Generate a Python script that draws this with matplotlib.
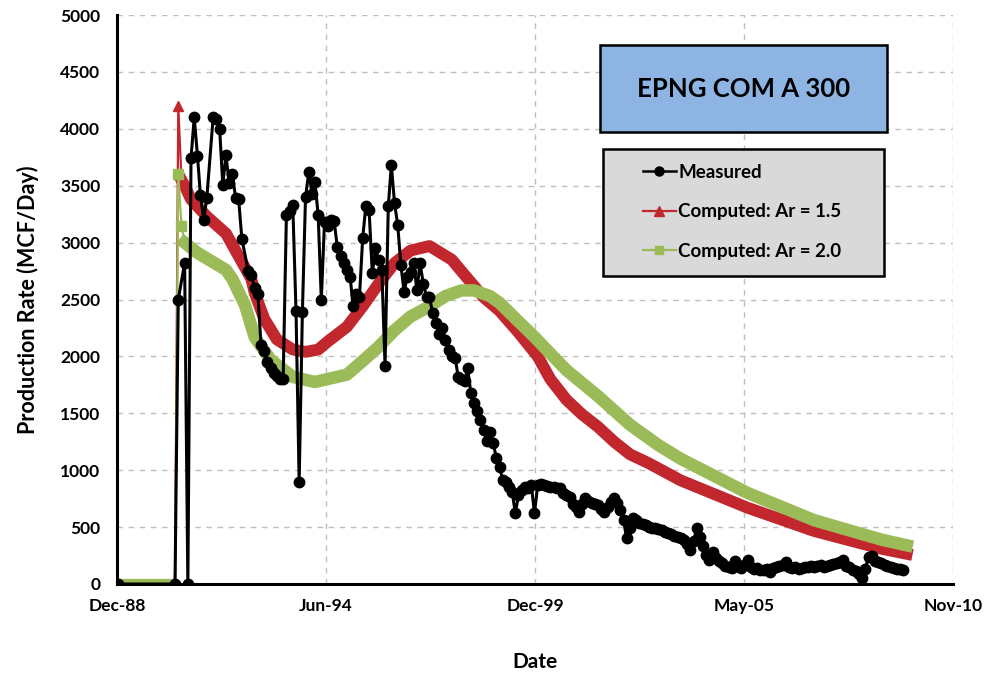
import numpy as np
import matplotlib
matplotlib.use('Agg')
import matplotlib.pyplot as plt
from matplotlib.dates import DateFormatter
from matplotlib.lines import Line2D
from matplotlib.patches import Rectangle

plt.rcParams['font.family'] = ['Lato', 'DejaVu Sans']
plt.rcParams['font.weight'] = 'bold'

# measured monthly gas rate (MCF/Day)
meas_months = [
    '1989-01', '1990-07', '1990-08', '1990-10', '1990-11', '1990-12',
    '1991-01', '1991-02', '1991-03', '1991-04', '1991-05', '1991-07', '1991-08', '1991-09',
    '1991-10', '1991-11', '1991-12',
    '1992-01', '1992-02', '1992-03', '1992-04', '1992-06', '1992-07', '1992-08', '1992-09',
    '1992-10', '1992-11', '1992-12',
    '1993-01', '1993-02', '1993-03', '1993-04', '1993-05', '1993-06', '1993-07', '1993-08',
    '1993-09', '1993-10', '1993-11', '1993-12',
    '1994-01', '1994-02', '1994-03', '1994-04', '1994-05', '1994-06', '1994-07', '1994-08',
    '1994-09', '1994-10', '1994-11', '1994-12',
    '1995-01', '1995-02', '1995-03', '1995-04', '1995-05', '1995-06', '1995-07', '1995-08',
    '1995-09', '1995-10', '1995-11', '1995-12',
    '1996-01', '1996-02', '1996-03', '1996-04', '1996-05', '1996-06', '1996-07', '1996-08',
    '1996-09', '1996-10', '1996-11', '1996-12',
    '1997-01', '1997-02', '1997-03', '1997-04', '1997-05', '1997-06', '1997-07', '1997-08',
    '1997-09', '1997-10', '1997-11', '1997-12',
    '1998-01', '1998-02', '1998-03', '1998-04', '1998-05', '1998-06', '1998-07', '1998-08',
    '1998-09', '1998-10', '1998-11', '1998-12',
    '1999-01', '1999-02', '1999-03', '1999-04', '1999-05', '1999-06', '1999-07', '1999-08',
    '1999-09', '1999-10', '1999-11', '1999-12',
    '2000-01', '2000-02', '2000-03', '2000-04', '2000-05', '2000-06', '2000-07', '2000-08',
    '2000-09', '2000-10', '2000-11', '2000-12',
    '2001-01', '2001-02', '2001-03', '2001-04', '2001-05', '2001-06', '2001-07', '2001-08',
    '2001-09', '2001-10', '2001-11', '2001-12',
    '2002-01', '2002-02', '2002-03', '2002-04', '2002-05', '2002-06', '2002-07', '2002-08',
    '2002-09', '2002-10', '2002-11', '2002-12',
    '2003-01', '2003-02', '2003-03', '2003-04', '2003-05', '2003-06', '2003-07', '2003-08',
    '2003-09', '2003-10', '2003-11', '2003-12',
    '2004-01', '2004-02', '2004-03', '2004-04', '2004-05', '2004-06', '2004-07', '2004-08',
    '2004-09', '2004-10', '2004-11', '2004-12',
    '2005-01', '2005-02', '2005-03', '2005-04', '2005-05', '2005-06', '2005-07', '2005-08',
    '2005-09', '2005-10', '2005-11', '2005-12',
    '2006-01', '2006-02', '2006-03', '2006-04', '2006-05', '2006-06', '2006-07', '2006-08',
    '2006-09', '2006-10', '2006-11', '2006-12',
    '2007-01', '2007-02', '2007-03', '2007-04', '2007-05', '2007-06', '2007-07', '2007-08',
    '2007-09', '2007-10', '2007-11', '2007-12',
    '2008-01', '2008-02', '2008-03', '2008-04', '2008-05', '2008-06', '2008-07', '2008-08',
    '2008-09', '2008-10', '2008-11', '2008-12',
    '2009-01', '2009-02', '2009-03', '2009-04', '2009-05', '2009-06', '2009-07', '2009-08',
]
meas_rate = [
    0, 0, 2500, 2820, 0, 3740,
    4100, 3760, 3420, 3200, 3390, 4100, 4090, 4000,
    3510, 3770, 3520,
    3600, 3390, 3380, 3030, 2750, 2715, 2600, 2550,
    2100, 2050, 1950,
    1900, 1850, 1830, 1800, 1800, 3240, 3280, 3330,
    2400, 900, 2390, 3400,
    3620, 3430, 3535, 3240, 2500, 3185, 3150, 3200,
    3190, 2960, 2880, 2820,
    2760, 2700, 2440, 2550, 2520, 3040, 3320, 3290,
    2730, 2950, 2850, 2760,
    1920, 3320, 3680, 3345, 3155, 2800, 2570, 2700,
    2740, 2820, 2580, 2820,
    2640, 2525, 2520, 2380, 2290, 2200, 2250, 2140,
    2060, 2000, 1990, 1820,
    1800, 1780, 1895, 1680, 1590, 1520, 1440, 1350,
    1260, 1340, 1240, 1105,
    1030, 910, 900, 855, 811, 621, 780, 826,
    850, 844, 870, 621,
    870, 880, 870, 860, 855, 850, 845, 841,
    800, 780, 767, 700,
    680, 636, 700, 753, 730, 709, 700, 694,
    660, 636, 680, 720,
    753, 709, 650, 562, 401, 489, 577, 560,
    540, 525, 518, 505,
    495, 489, 480, 470, 460, 450, 440, 425,
    416, 400, 387, 350,
    299, 380, 489, 416, 330, 255, 211, 284,
    230, 200, 180, 160,
    152, 140, 200, 160, 140, 170, 211, 150,
    130, 140, 125, 120,
    130, 108, 140, 150, 160, 170, 196, 150,
    140, 150, 130, 138,
    145, 150, 160, 150, 155, 167, 150, 160,
    170, 175, 185, 195,
    211, 160, 150, 120, 110, 90, 50, 130,
    240, 250, 200, 190,
    182, 170, 160, 152, 140, 135, 130, 123,
]

# computed, Ar = 1.5
ar15_months = [
    '1989-01', '1990-07', '1990-08', '1990-09', '1990-10', '1990-12', '1991-05', '1991-11',
    '1992-04', '1992-07', '1992-08', '1992-11', '1993-03', '1993-08', '1993-12', '1994-04',
    '1994-07', '1995-01', '1995-06', '1995-11', '1996-04', '1996-09', '1997-03', '1997-10',
    '1998-02', '1998-08', '1999-01', '1999-07', '2000-01', '2000-05', '2000-10', '2001-03',
    '2001-08', '2002-01', '2002-06', '2002-12', '2003-10', '2005-07', '2007-04', '2009-01',
    '2009-09',
]
ar15_rate = [
    0, 0, 4200, 3550, 3500, 3380, 3230, 3080,
    2830, 2680, 2560, 2330, 2150, 2060, 2040, 2060,
    2130, 2260, 2440, 2640, 2820, 2930, 2970, 2850,
    2715, 2520, 2400, 2210, 2000, 1800, 1620, 1490,
    1380, 1250, 1140, 1060, 910, 670, 465, 310,
    265,
]

# computed, Ar = 2.0
ar20_months = [
    '1989-01', '1990-07', '1990-08', '1990-09', '1990-10', '1991-02', '1991-11', '1992-01',
    '1992-05', '1992-08', '1993-01', '1993-08', '1994-03', '1995-01', '1995-06', '1995-11',
    '1996-04', '1996-09', '1997-03', '1997-08', '1998-01', '1998-05', '1998-10', '1999-01',
    '1999-12', '2000-10', '2001-08', '2002-06', '2003-03', '2003-10', '2005-07', '2007-04',
    '2009-01', '2009-09',
]
ar20_rate = [
    0, 0, 3600, 3150, 3000, 2910, 2760, 2680,
    2450, 2170, 1970, 1820, 1775, 1840, 1960, 2085,
    2230, 2350, 2440, 2530, 2580, 2580, 2530, 2470,
    2170, 1880, 1650, 1400, 1220, 1100, 800, 560,
    390, 340,
]

tick_dates = ['1988-12-23', '1994-06-15', '1999-12-07', '2005-05-30', '2010-11-18']

RED = '#C1272D'
GREEN = '#9BBB59'

md = np.array(meas_months, dtype='datetime64[M]').astype('datetime64[D]')
r_d = np.array(ar15_months, dtype='datetime64[M]').astype('datetime64[D]')
g_d = np.array(ar20_months, dtype='datetime64[M]').astype('datetime64[D]')
r_v = np.array(ar15_rate)
g_v = np.array(ar20_rate)
ticks = np.array(tick_dates, dtype='datetime64[D]')

fig = plt.figure(figsize=(9.9, 6.77), dpi=100)
ax = fig.add_axes([0.1182, 0.1374, 0.8444, 0.8404])

# computed curves: thin connecting line, thick band, spike markers
ax.plot(r_d, r_v, color=RED, lw=1.6, zorder=3)
ax.plot(r_d[:2], r_v[:2], color=RED, lw=8, solid_capstyle='butt', zorder=3)
ax.plot(r_d[3:], r_v[3:], color=RED, lw=8.5, zorder=3)
ax.plot(r_d[2:3], r_v[2:3], color=RED, marker='^', ms=7, ls='none', zorder=3)

ax.plot(g_d, g_v, color=GREEN, lw=1.6, zorder=4)
ax.plot(g_d[:2], g_v[:2], color=GREEN, lw=8, solid_capstyle='butt', zorder=4)
ax.plot(g_d[4:], g_v[4:], color=GREEN, lw=9, zorder=4)
ax.plot(g_d[2:4], g_v[2:4], color=GREEN, marker='s', ms=7, ls='none', zorder=4)

ax.plot(md, meas_rate, color='black', lw=2.2, marker='o', ms=7.5, zorder=5)

ax.set_xlim(ticks[0], ticks[-1])
ax.set_ylim(0, 5000)
ax.set_xticks(ticks)
ax.xaxis.set_major_formatter(DateFormatter('%b-%y'))
ax.set_yticks(np.arange(0, 5001, 500))

ax.grid(True, color='#BFBFBF', lw=1, linestyle=(0, (4, 4)))
ax.set_axisbelow(True)
for s in ['top', 'right']:
    ax.spines[s].set_visible(False)
for s in ['left', 'bottom']:
    ax.spines[s].set_linewidth(2.2)
    ax.spines[s].set_zorder(6)
ax.tick_params(length=0, labelsize=12.5)
ax.tick_params(axis='x', pad=10)
ax.tick_params(axis='y', pad=12)

ax.set_xlabel('Date', fontsize=15, fontweight='bold')
ax.set_ylabel('Production Rate (MCF/Day)', fontsize=15.5, fontweight='bold')
ax.xaxis.set_label_coords(0.5, -0.12)
ax.yaxis.set_label_coords(-0.093, 0.5)

# title box
ax.add_patch(Rectangle((0.5778, 0.7944), 0.3433, 0.1529, transform=ax.transAxes,
                       facecolor='#8DB4E2', edgecolor='black', lw=1.8, zorder=7))
ax.text(0.7494, 0.8708, 'EPNG COM A 300', transform=ax.transAxes, ha='center', va='center',
        fontsize=18.5, fontweight='bold', zorder=8)

# legend box
ax.add_patch(Rectangle((0.5813, 0.5413), 0.3361, 0.2232, transform=ax.transAxes,
                       facecolor='#D9D9D9', edgecolor='black', lw=1.8, zorder=7))
handles = [
    Line2D([], [], color='black', lw=1.8, marker='o', ms=6.5),
    Line2D([], [], color=RED, lw=1.6, marker='^', ms=7),
    Line2D([], [], color=GREEN, lw=1.6, marker='s', ms=6),
]
labels = ['Measured', 'Computed: Ar = 1.5', 'Computed: Ar = 2.0']
leg = ax.legend(handles, labels, loc='center left', bbox_to_anchor=(0.629, 0.654),
                frameon=False, fontsize=13.5, handlelength=1.75, handletextpad=0.15,
                labelspacing=1.2, borderpad=0, borderaxespad=0)
leg.set_zorder(8)

fig.savefig('out.png', dpi=100)
